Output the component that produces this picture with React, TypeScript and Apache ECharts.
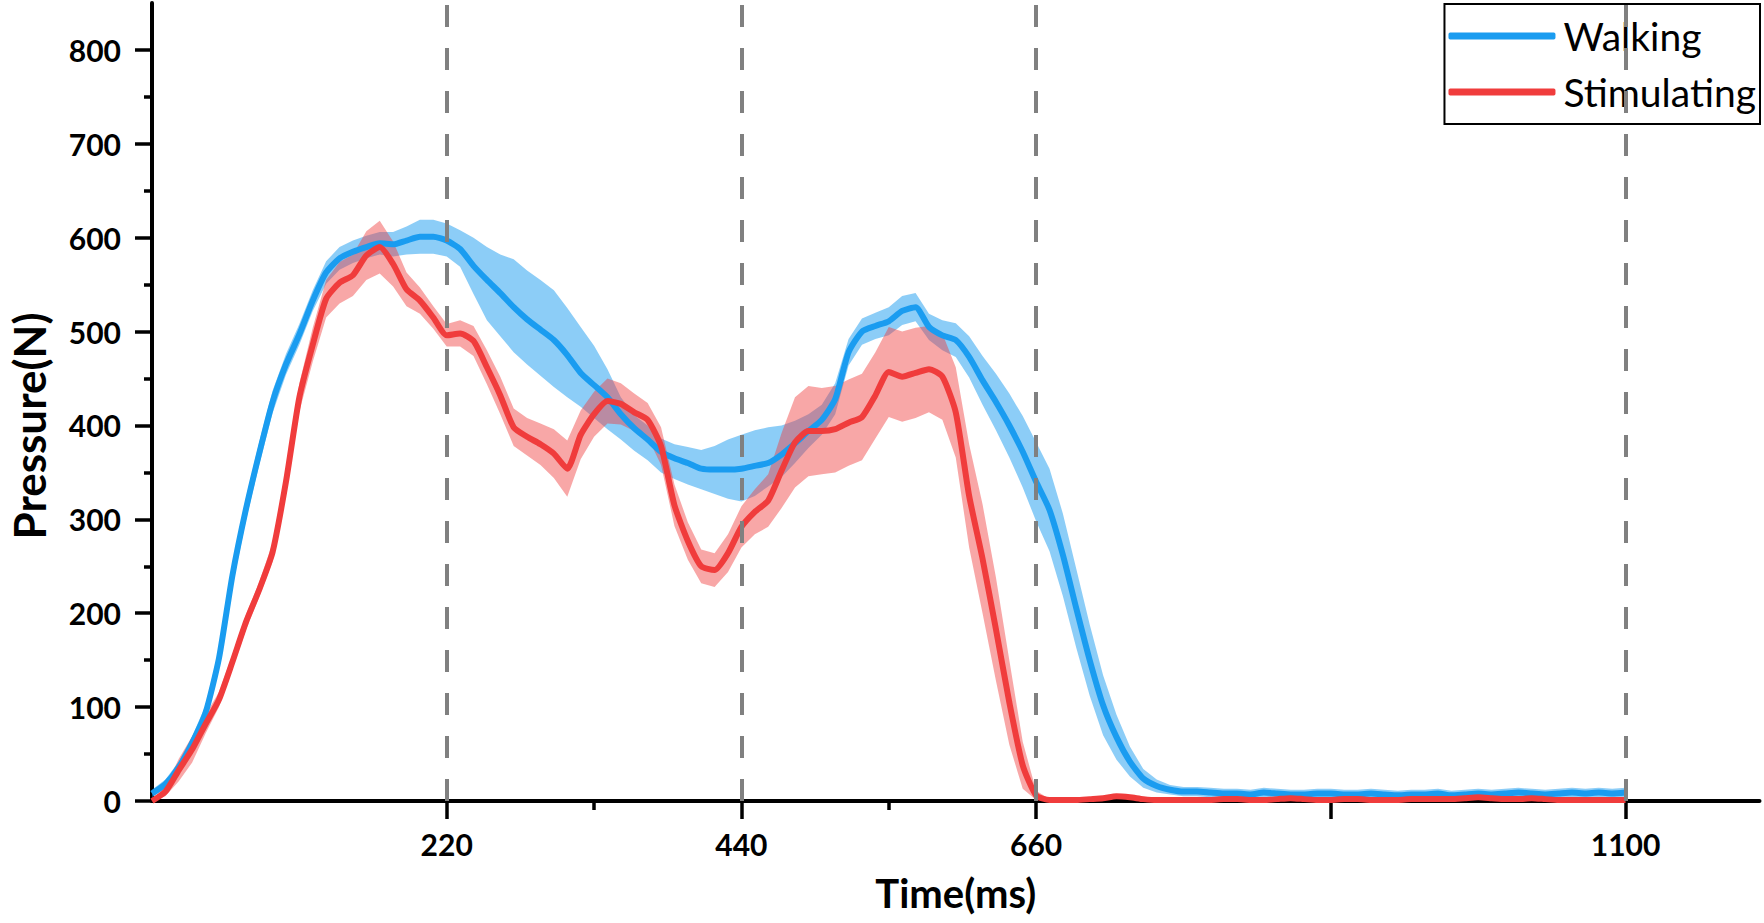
import React, { useEffect, useRef } from "react";
import * as echarts from "echarts";

const timeMs = [
  0, 10, 20, 30, 40, 50, 60, 70, 80, 90,
  100, 110, 120, 130, 140, 150, 160, 170, 180, 190,
  200, 210, 220, 230, 240, 250, 260, 270, 280, 290,
  300, 310, 320, 330, 340, 350, 360, 370, 380, 390,
  400, 410, 420, 430, 440, 450, 460, 470, 480, 490,
  500, 510, 520, 530, 540, 550, 560, 570, 580, 590,
  600, 610, 620, 630, 640, 650, 660, 670, 680, 690,
  700, 710, 720, 730, 740, 750, 760, 770, 780, 790,
  800, 810, 820, 830, 840, 850, 860, 870, 880, 890,
  900, 910, 920, 930, 940, 950, 960, 970, 980, 990,
  1000, 1010, 1020, 1030, 1040, 1050, 1060, 1070, 1080, 1090,
  1100,
];

const walkingMean = [
  8, 18, 36, 62, 94, 152, 240, 310, 370, 425,
  465, 497, 533, 563, 578, 585, 590, 594, 593, 597,
  601, 601, 597, 588, 570, 555, 541, 526, 513, 502,
  491, 475, 456, 443, 430, 412, 397, 385, 372, 365,
  360, 354, 353, 353, 354, 357, 360, 369, 381, 394,
  406, 428, 478, 500, 506, 511, 522, 526, 505, 496,
  491, 473, 448, 425, 400, 372, 340, 310, 262, 205,
  150, 102, 68, 42, 24, 16, 12, 10, 10, 9,
  8, 8, 7, 9, 8, 7, 7, 8, 8, 7,
  7, 8, 7, 6, 7, 7, 8, 6, 7, 8,
  7, 8, 9, 8, 7, 8, 9, 8, 9, 8,
  9,
];

const walkingUpper = [
  12, 23, 42, 69, 102, 162, 252, 322, 382, 437,
  476, 508, 544, 575, 590, 597, 602, 606, 606, 612,
  619, 619, 615, 608, 600, 590, 582, 577, 565, 555,
  544, 525, 505, 485, 460, 430, 411, 400, 386, 380,
  377, 374, 378, 385, 390, 395, 398, 400, 405, 412,
  422, 445, 492, 514, 520, 526, 538, 541, 519, 512,
  509, 495, 474, 455, 434, 410, 382, 354, 306, 247,
  188, 134, 92, 58, 34, 23, 17, 15, 15, 14,
  13, 13, 12, 14, 13, 12, 12, 13, 13, 12,
  12, 13, 12, 11, 12, 12, 13, 11, 12, 13,
  12, 13, 14, 13, 12, 13, 14, 13, 14, 13,
  14,
];

const walkingLower = [
  4, 13, 30, 55, 86, 142, 228, 298, 358, 413,
  454, 486, 522, 551, 566, 573, 578, 582, 580, 582,
  583, 583, 580, 569, 540, 512, 495, 478, 465, 453,
  441, 430, 420, 408, 396, 385, 373, 363, 350, 343,
  337, 332, 327, 322, 319, 325, 335, 345, 360, 376,
  390, 412, 464, 486, 492, 496, 507, 511, 491, 480,
  473, 451, 422, 395, 366, 334, 298, 266, 218, 163,
  112, 70, 44, 26, 14, 9, 7, 5, 5, 4,
  3, 3, 2, 4, 3, 2, 2, 3, 3, 2,
  2, 3, 2, 1, 2, 2, 3, 1, 2, 3,
  2, 3, 4, 3, 2, 3, 4, 3, 4, 3,
  4,
];

const stimulatingMean = [
  0, 10, 33, 55, 82, 108, 148, 190, 225, 265,
  340, 430, 486, 535, 552, 560, 581, 590, 572, 545,
  533, 515, 496, 498, 490, 462, 432, 398, 388, 380,
  370, 354, 390, 412, 426, 423, 414, 406, 378, 315,
  277, 250, 246, 264, 292, 308, 320, 352, 382, 394,
  394, 396, 403, 409, 432, 457, 452, 456, 460, 452,
  414, 325, 258, 183, 105, 38, 6, 1, 1, 1,
  2, 3, 5, 4, 2, 1, 1, 1, 1, 1,
  2, 2, 1, 1, 2, 3, 2, 1, 1, 2,
  2, 1, 1, 1, 2, 2, 2, 2, 3, 4,
  3, 2, 2, 3, 2, 1, 1, 1, 1, 1,
  1,
];

const stimulatingStd = [
  2, 5, 12, 14, 10, 8, 8, 8, 8, 10,
  12, 15, 18, 20, 22, 22, 26, 28, 24, 18,
  14, 12, 12, 14, 16, 18, 20, 20, 20, 22,
  26, 30, 26, 24, 24, 22, 20, 18, 20, 22,
  20, 18, 18, 20, 22, 24, 28, 40, 48, 48,
  46, 46, 46, 46, 46, 48, 48, 48, 46, 46,
  48, 55, 58, 55, 45, 25, 5, 1, 1, 1,
  1, 1, 1, 1, 1, 1, 1, 1, 1, 1,
  1, 1, 1, 1, 1, 1, 1, 1, 1, 1,
  1, 1, 1, 1, 1, 1, 1, 1, 1, 1,
  1, 1, 1, 1, 1, 1, 1, 1, 1, 1,
  1,
];

const yMajorTicks = [0, 100, 200, 300, 400, 500, 600, 700, 800];
const yMinorTicks = [50, 150, 250, 350, 450, 550, 650, 750];
const xMajorTicks = [220, 440, 660, 880, 1100];
const xMinorTicks = [330, 550];
const xTickLabels = [220, 440, 660, 1100];
const dashedLinesAt = [220, 440, 660, 1100];

const BLUE = "#1a9cf0";
const RED = "#f03c3c";
const FONT = "Lato, 'Open Sans', sans-serif";

export default function App() {
  const ref = useRef<HTMLDivElement>(null);

  useEffect(() => {
    if (!ref.current) return;
    const chart = echarts.init(ref.current, null, { renderer: "svg" });

    const meanPairs = (m: number[]) => timeMs.map((t, i) => [t, m[i]]);
    const walkingRows = timeMs.map((t, i) => [t, walkingLower[i], walkingUpper[i]]);
    const stimulatingRows = timeMs.map((t, i) => [
      t,
      Math.max(0, stimulatingMean[i] - stimulatingStd[i]),
      stimulatingMean[i] + stimulatingStd[i],
    ]);

    const bandSeries = (name: string, rows: number[][], color: string, opacity: number) => ({
      name,
      type: "custom",
      silent: true,
      xAxisIndex: 0,
      yAxisIndex: 0,
      data: rows,
      encode: { x: 0, y: [1, 2] },
      renderItem: (params: any, api: any) => {
        if (params.dataIndex !== 0) return null;
        const upper = rows.map((r) => api.coord([r[0], r[2]]));
        const lower = rows.map((r) => api.coord([r[0], r[1]])).reverse();
        return {
          type: "polygon",
          shape: { points: upper.concat(lower) },
          style: { fill: color, opacity },
        };
      },
    });

    const axisLabelStyle = {
      color: "#000",
      fontFamily: FONT,
      fontWeight: "bold" as const,
      fontSize: 30,
      formatter: (v: number) => String(v),
    };

    chart.setOption({
      animation: false,
      backgroundColor: "#fff",
      grid: { left: 152, right: 4.5, top: 3, bottom: 122, containLabel: false },
      legend: {
        data: [
          { name: "Walking", itemStyle: { color: BLUE } },
          { name: "Stimulating", itemStyle: { color: RED } },
        ],
        orient: "vertical",
        right: 4,
        top: 4,
        icon: "roundRect",
        itemWidth: 107,
        itemHeight: 7,
        itemGap: 16,
        padding: [12, 4, 12, 4],
        borderColor: "#000",
        borderWidth: 2,
        borderRadius: 0,
        backgroundColor: "#fff",
        textStyle: {
          color: "#000",
          fontFamily: FONT,
          fontSize: 39,
          lineHeight: 40,
          padding: [0, 0, 0, 3],
        },
      },
      xAxis: [
        {
          type: "value",
          min: 0,
          max: 1200,
          position: "bottom",
          name: "Time(ms)",
          nameLocation: "middle",
          nameGap: 72,
          nameTextStyle: { color: "#000", fontFamily: FONT, fontWeight: "bold", fontSize: 40 },
          axisLine: { show: true, lineStyle: { color: "#000", width: 4 } },
          axisTick: { show: true, customValues: xMajorTicks, length: 18, lineStyle: { color: "#000", width: 3.5 } },
          axisLabel: { ...axisLabelStyle, customValues: xTickLabels, margin: 28 },
          splitLine: { show: false },
        },
        {
          type: "value",
          min: 0,
          max: 1200,
          position: "bottom",
          axisLine: { show: false },
          axisTick: { show: true, customValues: xMinorTicks, length: 9, lineStyle: { color: "#000", width: 3.5 } },
          axisLabel: { show: false },
          splitLine: { show: false },
        },
      ],
      yAxis: [
        {
          type: "value",
          min: 0,
          max: 850,
          interval: 100,
          position: "left",
          axisLine: { show: true, lineStyle: { color: "#000", width: 4 } },
          axisTick: { show: true, customValues: yMajorTicks, length: 17, lineStyle: { color: "#000", width: 3.5 } },
          axisLabel: { ...axisLabelStyle, customValues: yMajorTicks, margin: 31 },
          splitLine: { show: false },
        },
        {
          type: "value",
          min: 0,
          max: 850,
          position: "left",
          axisLine: { show: false },
          axisTick: { show: true, customValues: yMinorTicks, length: 8, lineStyle: { color: "#000", width: 3.5 } },
          axisLabel: { show: false },
          splitLine: { show: false },
        },
      ],
      graphic: [
        {
          type: "text",
          x: 29,
          y: 426,
          rotation: Math.PI / 2,
          style: {
            text: "Pressure(N)",
            fill: "#000",
            font: `bold 44px ${FONT}`,
            textAlign: "center",
            textVerticalAlign: "middle",
          },
        },
      ],
      series: [
        bandSeries("walkingBand", walkingRows, BLUE, 0.5),
        {
          name: "Walking",
          type: "line",
          data: meanPairs(walkingMean),
          symbol: "none",
          smooth: 0.2,
          itemStyle: { color: BLUE },
          lineStyle: { color: BLUE, width: 6 },
          xAxisIndex: 0,
          yAxisIndex: 0,
        },
        bandSeries("stimulatingBand", stimulatingRows, RED, 0.45),
        {
          name: "Stimulating",
          type: "line",
          data: meanPairs(stimulatingMean),
          symbol: "none",
          smooth: 0.2,
          itemStyle: { color: RED },
          lineStyle: { color: RED, width: 6 },
          xAxisIndex: 0,
          yAxisIndex: 0,
          markLine: {
            silent: true,
            symbol: ["none", "none"],
            label: { show: false },
            lineStyle: { color: "#808080", width: 4, type: [22, 21] },
            data: dashedLinesAt.map((x) => [{ coord: [x, 0] }, { coord: [x, 850] }]),
          },
        },
      ],
    });

    return () => chart.dispose();
  }, []);

  return (
    <div
      ref={ref}
      style={{ position: "absolute", left: 0, top: 0, width: 1764, height: 923, background: "#fff" }}
    />
  );
}
